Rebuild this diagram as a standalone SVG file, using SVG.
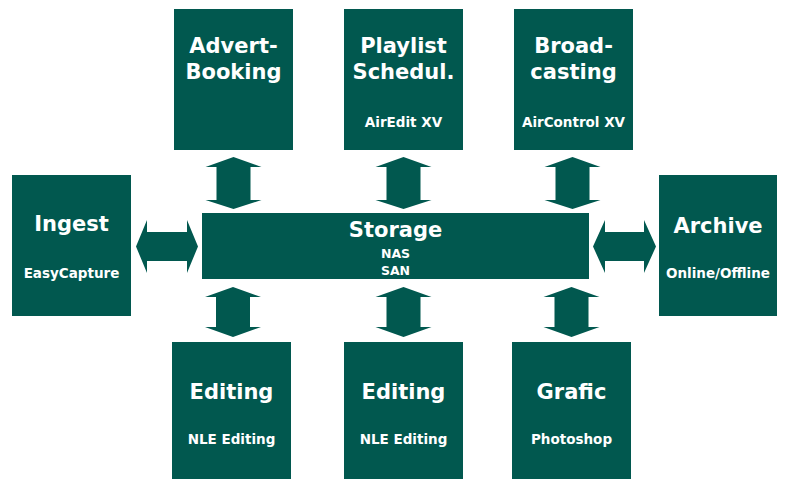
<svg xmlns="http://www.w3.org/2000/svg" width="785" height="479" viewBox="0 0 785 479">
<style>
.box{fill:#01584F}
.arr{fill:#01584F}
text{fill:#ffffff;font-family:"DejaVu Sans",Verdana,sans-serif;font-weight:bold;text-anchor:middle}
.t{font-size:21px}
.s{font-size:13.5px}
.n{font-size:12.5px}
</style>
<rect width="785" height="479" fill="#ffffff"/>
<g id="advert"><rect class="box" x="174" y="9" width="119" height="141"/><text class="t" x="233.5" y="53">Advert-</text><text class="t" x="233.5" y="79">Booking</text></g>
<g id="playlist"><rect class="box" x="344" y="9" width="119" height="141"/><text class="t" x="403.5" y="53">Playlist</text><text class="t" x="403.5" y="79">Schedul.</text><text class="s" x="403.5" y="127">AirEdit XV</text></g>
<g id="broadcasting"><rect class="box" x="514" y="9" width="119" height="141"/><text class="t" x="573.5" y="53">Broad-</text><text class="t" x="573.5" y="79">casting</text><text class="s" x="573.5" y="127">AirControl XV</text></g>
<g id="ingest"><rect class="box" x="12" y="175" width="119" height="141"/><text class="t" x="71.5" y="231">Ingest</text><text class="s" x="71.5" y="278">EasyCapture</text></g>
<g id="storage"><rect class="box" x="202" y="213" width="387" height="66"/><text class="t" x="395.5" y="237">Storage</text><text class="n" x="395.5" y="258">NAS</text><text class="n" x="395.5" y="275">SAN</text></g>
<g id="archive"><rect class="box" x="659" y="175" width="118" height="141"/><text class="t" x="718" y="233">Archive</text><text class="s" x="718" y="278">Online/Offline</text></g>
<g id="editing1"><rect class="box" x="172" y="342" width="119" height="137"/><text class="t" x="231.5" y="399">Editing</text><text class="s" x="231.5" y="444">NLE Editing</text></g>
<g id="editing2"><rect class="box" x="344" y="342" width="119" height="137"/><text class="t" x="403.5" y="399">Editing</text><text class="s" x="403.5" y="444">NLE Editing</text></g>
<g id="grafic"><rect class="box" x="512" y="342" width="119" height="137"/><text class="t" x="571.5" y="399">Grafic</text><text class="s" x="571.5" y="444">Photoshop</text></g>
<g id="connectors">
<polygon class="arr" transform="translate(233.5,0)" points="0,157 28,167 17,167 17,200 28,200 0,209 -28,200 -17,200 -17,167 -28,167"/>
<polygon class="arr" transform="translate(403.5,0)" points="0,157 28,167 17,167 17,200 28,200 0,209 -28,200 -17,200 -17,167 -28,167"/>
<polygon class="arr" transform="translate(572.5,0)" points="0,157 28,167 17,167 17,200 28,200 0,209 -28,200 -17,200 -17,167 -28,167"/>
<polygon class="arr" transform="translate(233,0)" points="0,287 28,297 17,297 17,327 28,327 0,337 -28,327 -17,327 -17,297 -28,297"/>
<polygon class="arr" transform="translate(403.5,0)" points="0,287 28,297 17,297 17,327 28,327 0,337 -28,327 -17,327 -17,297 -28,297"/>
<polygon class="arr" transform="translate(571.5,0)" points="0,287 28,297 17,297 17,327 28,327 0,337 -28,327 -17,327 -17,297 -28,297"/>
<polygon class="arr" points="136,246.5 147,220 147,232 187,232 187,220 198,246.5 187,273 187,261 147,261 147,273"/>
<polygon class="arr" points="593,246.5 605,220 605,232 644,232 644,220 656,246.5 644,273 644,261 605,261 605,273"/>
</g>
</svg>
